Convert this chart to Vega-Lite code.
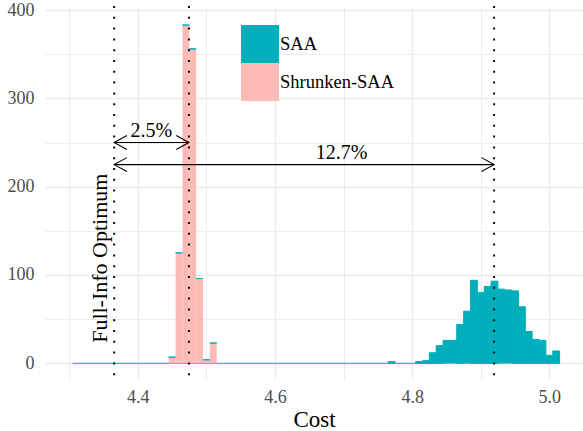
{
  "$schema": "https://vega.github.io/schema/vega-lite/v6.json",
  "width": 538,
  "height": 374,
  "autosize": {"type": "none"},
  "padding": {"left": 45, "top": 6, "right": 0, "bottom": 51},
  "background": "white",
  "config": {"view": {"stroke": null}, "font": "Liberation Serif"},
  "datasets": {
    "hist": [
      {"lo": 4.445, "hi": 4.455, "series": "Shrunken-SAA", "count": 7},
      {"lo": 4.455, "hi": 4.465, "series": "Shrunken-SAA", "count": 125},
      {"lo": 4.465, "hi": 4.475, "series": "Shrunken-SAA", "count": 383},
      {"lo": 4.475, "hi": 4.485, "series": "Shrunken-SAA", "count": 356},
      {"lo": 4.485, "hi": 4.495, "series": "Shrunken-SAA", "count": 96},
      {"lo": 4.495, "hi": 4.505, "series": "Shrunken-SAA", "count": 4},
      {"lo": 4.505, "hi": 4.515, "series": "Shrunken-SAA", "count": 23},
      {"lo": 4.445, "hi": 4.455, "series": "SAA", "count": 0},
      {"lo": 4.455, "hi": 4.465, "series": "SAA", "count": 0},
      {"lo": 4.465, "hi": 4.475, "series": "SAA", "count": 0},
      {"lo": 4.475, "hi": 4.485, "series": "SAA", "count": 0},
      {"lo": 4.485, "hi": 4.495, "series": "SAA", "count": 0},
      {"lo": 4.495, "hi": 4.505, "series": "SAA", "count": 0},
      {"lo": 4.505, "hi": 4.515, "series": "SAA", "count": 0},
      {"lo": 4.845, "hi": 4.855, "series": "Shrunken-SAA", "count": 1},
      {"lo": 4.855, "hi": 4.865, "series": "Shrunken-SAA", "count": 1},
      {"lo": 4.875, "hi": 4.885, "series": "Shrunken-SAA", "count": 1},
      {"lo": 4.925, "hi": 4.935, "series": "Shrunken-SAA", "count": 1},
      {"lo": 4.935, "hi": 4.945, "series": "Shrunken-SAA", "count": 1},
      {"lo": 4.765, "hi": 4.775, "series": "SAA", "count": 2},
      {"lo": 4.805, "hi": 4.815, "series": "SAA", "count": 2},
      {"lo": 4.815, "hi": 4.825, "series": "SAA", "count": 3},
      {"lo": 4.825, "hi": 4.835, "series": "SAA", "count": 12},
      {"lo": 4.835, "hi": 4.845, "series": "SAA", "count": 20},
      {"lo": 4.845, "hi": 4.855, "series": "SAA", "count": 25},
      {"lo": 4.855, "hi": 4.865, "series": "SAA", "count": 25},
      {"lo": 4.865, "hi": 4.875, "series": "SAA", "count": 44},
      {"lo": 4.875, "hi": 4.885, "series": "SAA", "count": 58},
      {"lo": 4.885, "hi": 4.895, "series": "SAA", "count": 94},
      {"lo": 4.895, "hi": 4.905, "series": "SAA", "count": 80},
      {"lo": 4.905, "hi": 4.915, "series": "SAA", "count": 87},
      {"lo": 4.915, "hi": 4.925, "series": "SAA", "count": 93},
      {"lo": 4.925, "hi": 4.935, "series": "SAA", "count": 83},
      {"lo": 4.935, "hi": 4.945, "series": "SAA", "count": 82},
      {"lo": 4.945, "hi": 4.955, "series": "SAA", "count": 82},
      {"lo": 4.955, "hi": 4.965, "series": "SAA", "count": 64},
      {"lo": 4.965, "hi": 4.975, "series": "SAA", "count": 36},
      {"lo": 4.975, "hi": 4.985, "series": "SAA", "count": 27},
      {"lo": 4.985, "hi": 4.995, "series": "SAA", "count": 26},
      {"lo": 4.995, "hi": 5.005, "series": "SAA", "count": 9},
      {"lo": 5.005, "hi": 5.015, "series": "SAA", "count": 14}
    ],
    "base": [{"from": 4.305, "to": 5.015, "count": 0}],
    "vlines": [{"cost": 4.3655}, {"cost": 4.4745}, {"cost": 4.9195}],
    "arrows": [
      {"from": 4.3655, "to": 4.4745, "count": 250},
      {"from": 4.3655, "to": 4.9195, "count": 225}
    ],
    "labels": [
      {"cost": 4.4195, "count": 263, "text": "2.5%"},
      {"cost": 4.697, "count": 238, "text": "12.7%"}
    ],
    "optimum": [{"cost": 4.3545, "count": 119, "text": "Full-Info Optimum"}]
  },
  "layer": [
    {
      "data": {"name": "base"},
      "mark": {"type": "rule", "color": "#00AFBB", "strokeWidth": 1},
      "encoding": {
        "x": {"field": "from", "type": "quantitative", "title": "Cost", "scale": {"domain": [4.2646, 5.0491], "nice": false, "zero": false}},
        "x2": {"field": "to"},
        "y": {"field": "count", "type": "quantitative", "title": null, "scale": {"domain": [-18.9, 404.6], "nice": false, "zero": false}}
      }
    },
    {
      "data": {"name": "hist"},
      "transform": [
        {"stack": "count", "groupby": ["lo"], "sort": [{"field": "series", "order": "descending"}], "as": ["y0", "y1"]}
      ],
      "mark": {"type": "bar", "strokeWidth": 1},
      "encoding": {
        "x": {
          "field": "lo", "type": "quantitative", "title": "Cost",
          "scale": {"domain": [4.2646, 5.0491], "nice": false, "zero": false},
          "axis": {
            "values": [4.3, 4.4, 4.5, 4.6, 4.7, 4.8, 4.9, 5.0],
            "labelExpr": "abs(round(datum.value*10)) % 2 == 0 ? format(datum.value, '.1f') : ''",
            "grid": true, "gridColor": "#EBEBEB",
            "gridWidth": {"condition": {"test": "abs(round(datum.value*10)) % 2 == 0", "value": 1.3}, "value": 0.9},
            "ticks": false, "domain": false,
            "labelFont": "Liberation Serif", "labelFontSize": 18, "labelColor": "#4D4D4D",
            "labelPadding": 8, "labelOverlap": false, "labelFlush": false,
            "titleFont": "Liberation Serif", "titleFontSize": 23, "titleFontWeight": "normal", "titleColor": "black",
            "titlePadding": 2
          }
        },
        "x2": {"field": "hi"},
        "y": {
          "field": "y1", "type": "quantitative", "title": null,
          "scale": {"domain": [-18.9, 404.6], "nice": false, "zero": false},
          "axis": {
            "values": [0, 50, 100, 150, 200, 250, 300, 350, 400],
            "labelExpr": "datum.value % 100 == 0 ? format(datum.value, 'd') : ''",
            "grid": true, "gridColor": "#EBEBEB",
            "gridWidth": {"condition": {"test": "datum.value % 100 == 0", "value": 1.3}, "value": 0.9},
            "ticks": false, "domain": false,
            "labelFont": "Liberation Serif", "labelFontSize": 18, "labelColor": "#4D4D4D",
            "labelPadding": 11, "labelOverlap": false
          }
        },
        "y2": {"field": "y0"},
        "color": {
          "field": "series", "type": "nominal",
          "scale": {"domain": ["SAA", "Shrunken-SAA"], "range": ["#00AFBB", "#FCBBB6"]},
          "legend": {
            "orient": "none", "legendX": 196, "legendY": 19, "title": null,
            "symbolType": "square", "symbolSize": 1444, "symbolStrokeWidth": 0, "symbolOpacity": 1,
            "labelFont": "Liberation Serif", "labelFontSize": 18.5, "labelColor": "black",
            "labelOffset": 1, "rowPadding": 0, "padding": 0, "labelLimit": 300
          }
        },
        "stroke": {
          "field": "series", "type": "nominal",
          "scale": {"domain": ["SAA", "Shrunken-SAA"], "range": ["#00AFBB", "rgba(0,0,0,0)"]},
          "legend": null
        }
      }
    },
    {
      "data": {"name": "arrows"},
      "mark": {"type": "rule", "color": "black", "strokeWidth": 1.1},
      "encoding": {
        "x": {"field": "from", "type": "quantitative", "title": "Cost", "scale": {"domain": [4.2646, 5.0491], "nice": false, "zero": false}},
        "x2": {"field": "to"},
        "y": {"field": "count", "type": "quantitative", "title": null, "scale": {"domain": [-18.9, 404.6], "nice": false, "zero": false}}
      }
    },
    {
      "data": {"name": "arrows"},
      "mark": {"type": "point", "shape": "M1,-0.55L0,0L1,0.55", "size": 645, "filled": false, "stroke": "black", "strokeWidth": 1.1, "opacity": 1},
      "encoding": {
        "x": {"field": "from", "type": "quantitative", "title": "Cost", "scale": {"domain": [4.2646, 5.0491], "nice": false, "zero": false}},
        "y": {"field": "count", "type": "quantitative", "title": null, "scale": {"domain": [-18.9, 404.6], "nice": false, "zero": false}}
      }
    },
    {
      "data": {"name": "arrows"},
      "mark": {"type": "point", "shape": "M-1,-0.55L0,0L-1,0.55", "size": 645, "filled": false, "stroke": "black", "strokeWidth": 1.1, "opacity": 1},
      "encoding": {
        "x": {"field": "to", "type": "quantitative", "title": "Cost", "scale": {"domain": [4.2646, 5.0491], "nice": false, "zero": false}},
        "y": {"field": "count", "type": "quantitative", "title": null, "scale": {"domain": [-18.9, 404.6], "nice": false, "zero": false}}
      }
    },
    {
      "data": {"name": "vlines"},
      "mark": {"type": "rule", "color": "black", "strokeWidth": 1.9, "strokeDash": [2, 8.8]},
      "encoding": {
        "x": {"field": "cost", "type": "quantitative", "title": "Cost", "scale": {"domain": [4.2646, 5.0491], "nice": false, "zero": false}}
      }
    },
    {
      "data": {"name": "labels"},
      "mark": {"type": "text", "font": "Liberation Serif", "fontSize": 20, "color": "black", "align": "center", "baseline": "middle"},
      "encoding": {
        "x": {"field": "cost", "type": "quantitative", "title": "Cost", "scale": {"domain": [4.2646, 5.0491], "nice": false, "zero": false}},
        "y": {"field": "count", "type": "quantitative", "title": null, "scale": {"domain": [-18.9, 404.6], "nice": false, "zero": false}},
        "text": {"field": "text"}
      }
    },
    {
      "data": {"name": "optimum"},
      "mark": {"type": "text", "font": "Liberation Serif", "fontSize": 22, "color": "black", "align": "center", "baseline": "alphabetic", "angle": 270},
      "encoding": {
        "x": {"field": "cost", "type": "quantitative", "title": "Cost", "scale": {"domain": [4.2646, 5.0491], "nice": false, "zero": false}},
        "y": {"field": "count", "type": "quantitative", "title": null, "scale": {"domain": [-18.9, 404.6], "nice": false, "zero": false}},
        "text": {"field": "text"}
      }
    }
  ]
}
